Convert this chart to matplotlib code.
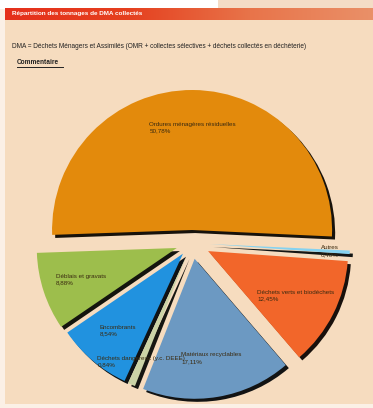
import numpy as np
import matplotlib
matplotlib.use("Agg")
import matplotlib.pyplot as plt
from matplotlib.patches import Rectangle
from matplotlib.colors import LinearSegmentedColormap

# Waste tonnage breakdown (DMA)
categories = [
    "Ordures ménagères résiduelles",
    "Autres",
    "Déchets verts et biodéchets",
    "Matériaux recyclables",
    "Déchets dangereux (y.c. DEEE)",
    "Encombrants",
    "Déblais et gravats",
]
shares = [50.78, 0.40, 12.45, 17.11, 0.84, 8.54, 8.88]
share_labels = ["50,78%", "0,40%", "12,45%", "17,11%", "0,84%", "8,54%", "8,88%"]

colors = ["#E38A0C", "#86D2F0", "#F2662A", "#6C99C2", "#CBD3A6", "#2192DF", "#9DBE4C"]
explode = [13, 18, 18, 16, 14, 14, 16]
label_frac = [0.73, 0.86, 0.70, 0.72, 0.82, 0.72, 0.72]

W, H = 373, 408
fig = plt.figure(figsize=(W / 100, H / 100), dpi=100)
ax = fig.add_axes([0, 0, 1, 1])
ax.patch.set_alpha(0)

font = "Liberation Sans"

# page background
ax.add_patch(Rectangle((0, 0), W, H, facecolor="#FBF0E6", edgecolor="none", zorder=0))
ax.add_patch(Rectangle((5, 4), W - 5, H - 4 - 20, facecolor="#F6DCBF", edgecolor="none", zorder=0.5))
ax.add_patch(Rectangle((0, H - 9), 218, 9, facecolor="#FFFFFF", edgecolor="none", zorder=0.6))
ax.add_patch(Rectangle((218, H - 9), W - 218, 9, facecolor="#F4DCC6", edgecolor="none", zorder=0.6))

# header bar with red-to-salmon gradient
grad = np.linspace(0, 1, 256)[None, :]
hdr_cmap = LinearSegmentedColormap.from_list("hdr", ["#E5301C", "#E5401F", "#E8744A", "#EA9068"])
ax.imshow(grad, cmap=hdr_cmap, extent=(5, W, H - 20, H - 8), aspect="auto", zorder=1)
ax.text(12, H - 14, "Répartition des tonnages de DMA collectés", color="white",
        fontsize=4.6, fontweight="bold", family=font, va="center", ha="left", zorder=2)

ax.text(12, H - 46, "DMA = Déchets Ménagers et Assimilés (OMR + collectes sélectives + déchets collectés en déchèterie)",
        color="#222222", fontsize=4.7, family=font, va="center", ha="left", zorder=2)
ax.text(17, H - 63, "Commentaire", color="#222222", fontsize=4.7, fontweight="bold",
        family=font, va="center", ha="left", zorder=2)
ax.plot([17, 63], [H - 66.5, H - 66.5], color="#222222", lw=0.7, zorder=2)

# exploded pie with dark drop shadows
cx, cy, R = 192, H - 243, 140
wedges, _ = ax.pie(
    shares, colors=colors, explode=explode, center=(cx, cy), radius=R,
    startangle=182, counterclock=False, frame=True,
    wedgeprops=dict(linewidth=0),
    shadow={"ox": 2.2, "oy": -2.2, "shade": 0.95, "alpha": 0.95},
)

for w, name, pct, f in zip(wedges, categories, share_labels, label_frac):
    mid = np.deg2rad(0.5 * (w.theta1 + w.theta2))
    x = w.center[0] + f * w.r * np.cos(mid)
    y = w.center[1] + f * w.r * np.sin(mid)
    ax.text(x, y, f"{name}\n{pct}", ha="center", va="center", fontsize=4.5,
            family=font, color="#3A2A10", linespacing=1.35, multialignment="left", zorder=5)

ax.set_xlim(0, W)
ax.set_ylim(0, H)
ax.set_aspect("equal")
ax.axis("off")

fig.savefig("out.png", dpi=100)
